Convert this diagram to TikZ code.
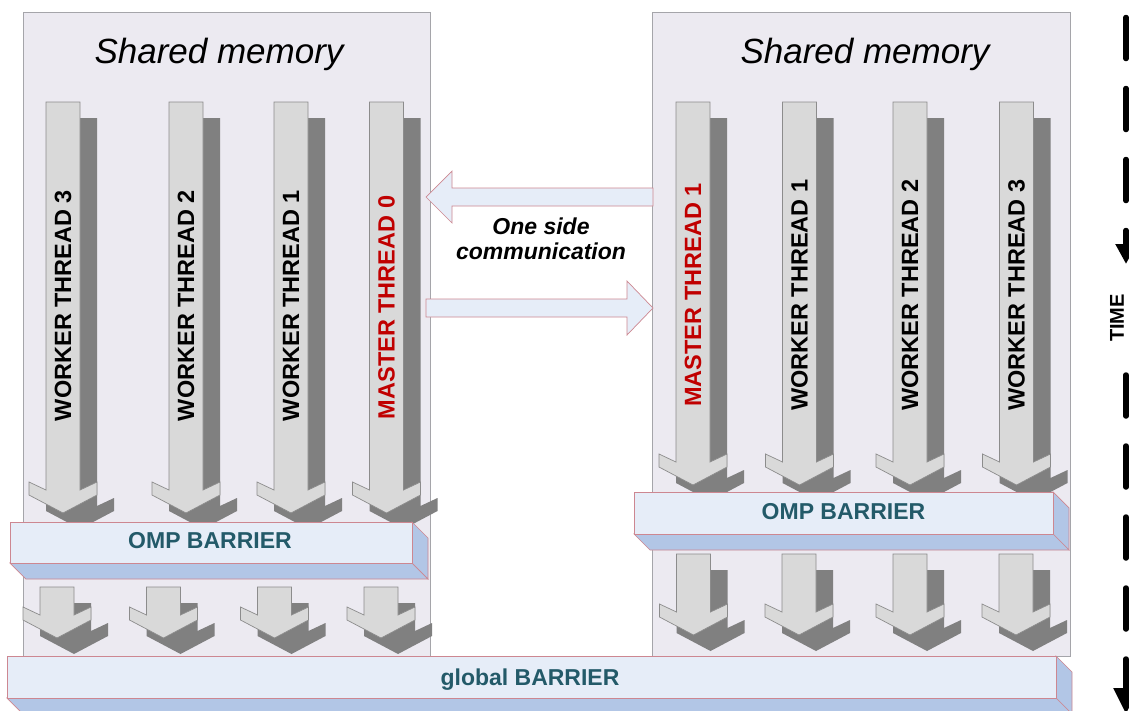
\documentclass[tikz,border=0pt]{standalone}
\usepackage{fontspec}
\setmainfont{Liberation Sans}
\usetikzlibrary{arrows.meta}

\definecolor{memfill}{RGB}{236,234,241}
\definecolor{memline}{RGB}{165,165,170}
\definecolor{thrfill}{RGB}{217,217,217}
\definecolor{thrline}{RGB}{140,140,140}
\definecolor{thrshade}{RGB}{128,128,128}
\definecolor{barfront}{RGB}{230,237,248}
\definecolor{barsidecol}{RGB}{178,198,230}
\definecolor{barline}{RGB}{205,135,145}
\definecolor{bartxt}{RGB}{35,90,105}
\definecolor{masterred}{RGB}{192,0,0}

% one thread: shadow first, then the arrow on top of it
% #1 = centre x, #2 = top of the shaft, #3 = top of the head wings
\newcommand{\thrarrow}[3]{%
  \fill[thrshade,shift={(#1+17,#3+16)}] (-17,#2-#3) -- (-17,8) -- (-34,0) -- (-34,13) -- (0,31) -- (34,13) -- (34,0) -- (17,8) -- (17,#2-#3) -- cycle;
  \draw[thread,shift={(#1,#3)}] (-17,#2-#3) -- (-17,8) -- (-34,0) -- (-34,13) -- (0,31) -- (34,13) -- (34,0) -- (17,8) -- (17,#2-#3) -- cycle;}

% flat 3d bar: #1,#2 upper left and #3,#4 lower right of the front face
\newcommand{\barrier}[4]{%
  \draw[barside] (#3,#2) -- (#3+16,#2+16) -- (#3+16,#4+16) -- (#3,#4) -- cycle;
  \draw[barside] (#1,#4) -- (#3,#4) -- (#3+16,#4+16) -- (#1+16,#4+16) -- cycle;
  \draw[barface] (#1,#2) rectangle (#3,#4);}

\begin{document}
\begin{tikzpicture}[x=1pt,y=-1pt,
    membox/.style={fill=memfill,draw=memline,line width=1pt},
    thread/.style={fill=thrfill,draw=thrline,line width=0.7pt},
    barface/.style={fill=barfront,draw=barline,line width=0.7pt},
    barside/.style={fill=barsidecol,draw=barline,line width=0.7pt},
    commarrow/.style={fill=barfront,draw=barline,line width=0.7pt},
    memtitle/.style={anchor=base,font=\fontsize{35}{40}\selectfont\itshape},
    thrlabel/.style={rotate=90,inner sep=0pt,font=\fontsize{23.5}{28}\selectfont\bfseries},
    bartext/.style={text=bartxt,font=\fontsize{23}{28}\selectfont\bfseries},
    timeline/.style={line width=5.5pt,line cap=round,dash pattern=on 41pt off 30pt}]

     \useasboundingbox (0,0) rectangle (1129,710);
     \clip (0,0) rectangle (1129,710);
     \fill[white] (0,0) rectangle (1129,710);

     %Shared memory boxes
     \draw[membox] (23,12) rectangle (430,656);
     \draw[membox] (652,12) rectangle (1070,656);
     \node[memtitle] (memL) at (219,63) {Shared memory};
     \node[memtitle] (memR) at (865,63) {Shared memory};

     %Left side, threads before the omp barrier
     \thrarrow{63}{102}{482}
     \thrarrow{186}{102}{482}
     \thrarrow{291}{102}{482}
     \thrarrow{386.5}{102}{482}
     \node[thrlabel] (wl3) at (63,305.5) {WORKER THREAD 3};
     \node[thrlabel] (wl2) at (186,305.5) {WORKER THREAD 2};
     \node[thrlabel] (wl1) at (291,305.5) {WORKER THREAD 1};
     \node[thrlabel,text=masterred] (ml0) at (386.5,307.5) {MASTER THREAD 0};

     %Right side, threads before the omp barrier
     \thrarrow{693}{102}{454}
     \thrarrow{799.5}{102}{454}
     \thrarrow{910}{102}{454}
     \thrarrow{1016.5}{102}{454}
     \node[thrlabel,text=masterred] (mr1) at (693,295) {MASTER THREAD 1};
     \node[thrlabel] (wr1) at (799.5,295) {WORKER THREAD 1};
     \node[thrlabel] (wr2) at (910,295) {WORKER THREAD 2};
     \node[thrlabel] (wr3) at (1016.5,295) {WORKER THREAD 3};

     %OMP barriers
     \barrier{10}{522}{412}{563}
     \node[bartext] (ompL) at (210,541) {OMP BARRIER};
     \barrier{634}{492}{1053}{534}
     \node[bartext] (ompR) at (843.5,511.5) {OMP BARRIER};

     %Threads after the omp barriers
     \thrarrow{57}{587}{607}
     \thrarrow{163.5}{587}{607}
     \thrarrow{274.5}{587}{607}
     \thrarrow{381}{587}{607}
     \thrarrow{693.5}{554}{604}
     \thrarrow{799}{554}{604}
     \thrarrow{910}{554}{604}
     \thrarrow{1016}{554}{604}

     %Global barrier
     \barrier{7}{656}{1056}{698}
     \node[bartext,anchor=base] (glob) at (530,685) {global BARRIER};

     %One side communication
     \draw[commarrow] (653,188) -- (452,188) -- (452,171) -- (426,197) -- (452,223) -- (452,206) -- (653,206) -- cycle;
     \draw[commarrow] (426,299) -- (627,299) -- (627,281) -- (653,308) -- (627,335) -- (627,317) -- (426,317) -- cycle;
     \node[align=center,font=\fontsize{23}{25.5}\selectfont\bfseries\itshape] (comm) at (541,239) {One side\\communication};

     %Time axis
     \coordinate (t0) at (1126,17.5);
     \coordinate (t1) at (1126,264);
     \coordinate (t2) at (1126,375);
     \coordinate (t3) at (1126,714);
     \draw[timeline,-{Triangle[length=20pt,width=20pt]}] (t0) -- (t1);
     \draw[timeline,-{Triangle[length=26pt,width=24pt]}] (t2) -- (t3);
     \node[rotate=90,inner sep=0pt,font=\fontsize{20}{24}\selectfont\bfseries] (time) at (1117,318) {TIME};

\end{tikzpicture}
\end{document}
